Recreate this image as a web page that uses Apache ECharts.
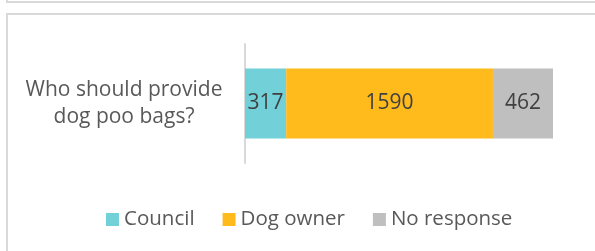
<!DOCTYPE html>
<html>
<head>
<meta charset="utf-8">
<script src="https://cdn.jsdelivr.net/npm/echarts@6/dist/echarts.min.js"></script>
<style>
  html, body { margin: 0; padding: 0; background: #fff; }
  #main { width: 595px; height: 251px; }
</style>
</head>
<body>
<div id="main"></div>
<script>
// 数据
const categories = ['Who should provide dog poo bags?'];
const seriesNames = ['Council', 'Dog owner', 'No response'];
const council = [317];
const dogOwner = [1590];
const noResponse = [462];
const colors = ['#72d0d8', '#ffba1b', '#bfbfbf'];

const total = council[0] + dogOwner[0] + noResponse[0];

var myChart = echarts.init(document.getElementById('main'));

const barLabel = {
    show: true,
    position: 'inside',
    fontFamily: 'Open Sans',
    fontSize: 21,
    color: '#404040'
};

const option = {
    animation: false,
    textStyle: { fontFamily: 'Open Sans' },
    graphic: [
        // panel borders
        {
            type: 'rect',
            shape: { x: 7, y: -50, width: 600, height: 52 },
            style: { fill: 'none', stroke: '#d9d9d9', lineWidth: 2 },
            silent: true
        },
        {
            type: 'rect',
            shape: { x: 7, y: 14, width: 600, height: 300 },
            style: { fill: 'none', stroke: '#d9d9d9', lineWidth: 2 },
            silent: true
        }
    ],
    grid: {
        left: 245,
        right: 42,
        top: 44,
        bottom: 88
    },
    legend: {
        left: 101,
        top: 204,
        icon: 'rect',
        itemWidth: 13,
        itemHeight: 13,
        itemGap: 28,
        textStyle: { fontSize: 20.5, color: '#595959', fontFamily: 'Open Sans' },
        data: seriesNames
    },
    xAxis: {
        type: 'value',
        min: 0,
        max: total,
        show: false
    },
    yAxis: {
        type: 'category',
        data: categories,
        axisLine: { show: true, lineStyle: { color: '#d9d9d9', width: 2 } },
        axisTick: { show: false },
        axisLabel: {
            margin: 121,
            align: 'center',
            fontSize: 21,
            lineHeight: 27,
            color: '#595959',
            formatter: function (v) {
                return v.replace(' dog', '\ndog');
            }
        }
    },
    series: [
        { name: seriesNames[0], type: 'bar', stack: 'a', barWidth: 70, data: council, itemStyle: { color: colors[0] }, label: barLabel },
        { name: seriesNames[1], type: 'bar', stack: 'a', barWidth: 70, data: dogOwner, itemStyle: { color: colors[1] }, label: barLabel },
        { name: seriesNames[2], type: 'bar', stack: 'a', barWidth: 70, data: noResponse, itemStyle: { color: colors[2] }, label: barLabel }
    ]
};

myChart.setOption(option);
</script>
</body>
</html>
